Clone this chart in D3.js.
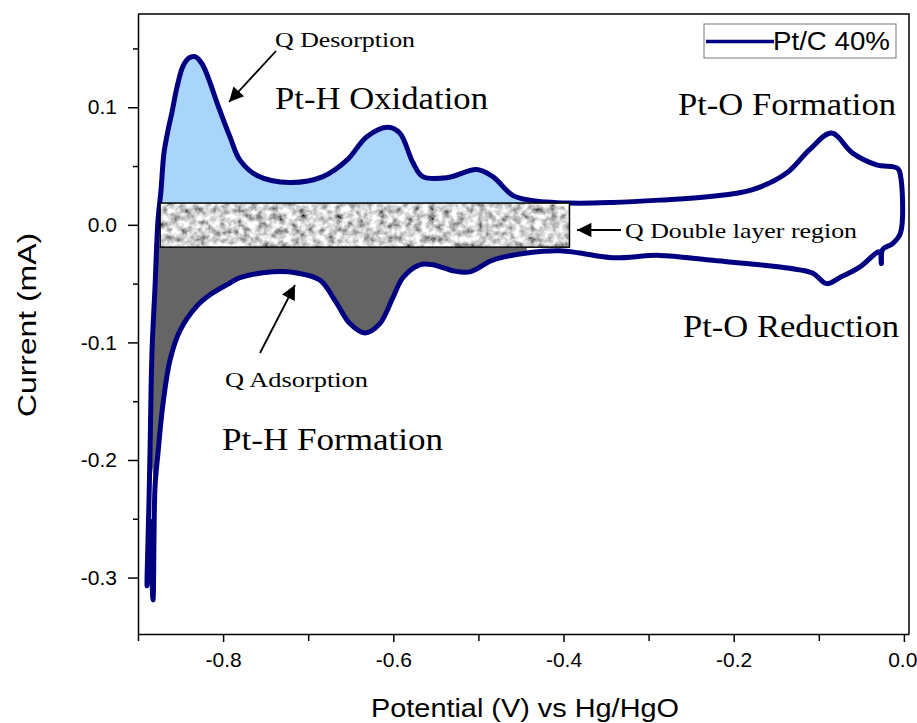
<!DOCTYPE html>
<html>
<head>
<meta charset="utf-8">
<script src="https://cdn.jsdelivr.net/npm/d3@7"></script>
<style>
  body { margin: 0; background: #fff; }
  svg { display: block; }
</style>
</head>
<body>
<div id="chart"></div>
<script>
// anodic sweep (negative -> positive)
var forwardV = [-0.8894, -0.8871, -0.8859, -0.8836, -0.8800, -0.8765, -0.8730, -0.8695, -0.8648, -0.8600,
  -0.8542, -0.8471, -0.8400, -0.8330, -0.8248, -0.8154, -0.8072, -0.7920, -0.7802, -0.7602,
  -0.7215, -0.6827, -0.6545, -0.6311, -0.6064, -0.5923, -0.5770, -0.5653, -0.5371, -0.5019,
  -0.4831, -0.4596, -0.4396, -0.3927, -0.3422, -0.2870, -0.2282, -0.1777, -0.1378, -0.1108,
  -0.0850, -0.0603, -0.0321, -0.0074, -0.0040]
var forwardI = [-0.307, -0.235, -0.194, -0.109, -0.053, 0.004, 0.029, 0.061, 0.080, 0.096,
  0.117, 0.135, 0.142, 0.143, 0.137, 0.121, 0.104, 0.075, 0.055, 0.042,
  0.036, 0.041, 0.055, 0.075, 0.083, 0.078, 0.053, 0.041, 0.040, 0.047,
  0.041, 0.025, 0.021, 0.0185, 0.019, 0.021, 0.024, 0.030, 0.044, 0.064,
  0.078, 0.061, 0.051, 0.048, 0.042]
// cathodic sweep (positive -> negative)
var reverseV = [-0.0040, -0.0133, -0.0250, -0.0265, -0.0286, -0.0520, -0.0756, -0.0909, -0.1073, -0.1343,
  -0.1695, -0.2282, -0.2870, -0.3422, -0.3809, -0.4044, -0.4432, -0.4831, -0.5101, -0.5301,
  -0.5536, -0.5688, -0.5888, -0.6005, -0.6158, -0.6334, -0.6510, -0.6663, -0.6863, -0.7133,
  -0.7415, -0.7802, -0.7920, -0.8154, -0.8307, -0.8507, -0.8624, -0.8706, -0.8765, -0.8800,
  -0.8824, -0.8859]
var reverseI = [-0.007, -0.016, -0.021, -0.033, -0.023, -0.036, -0.045, -0.050, -0.041, -0.037,
  -0.034, -0.030, -0.026, -0.028, -0.024, -0.022, -0.024, -0.030, -0.040, -0.039,
  -0.034, -0.034, -0.045, -0.062, -0.084, -0.092, -0.084, -0.067, -0.047, -0.041,
  -0.040, -0.045, -0.0495, -0.0595, -0.069, -0.090, -0.115, -0.152, -0.194, -0.223,
  -0.319, -0.252]

var xMajor = [-0.8, -0.6, -0.4, -0.2, 0.0]
var xMinor = [-0.9, -0.7, -0.5, -0.3, -0.1]
var yMajor = [-0.3, -0.2, -0.1, 0.0, 0.1]
var yMinor = [-0.25, -0.15, -0.05, 0.05, 0.15]
var seriesName = "Pt/C 40%"

// charge regions
var desorptionBase = 0.0185
var adsorptionBase = -0.019
var doubleLayerV = [-0.874, -0.393]
var doubleLayerI = [-0.019, 0.0185]

var width = 917
var height = 723
var margin = { top: 14, right: 8, bottom: 89, left: 138 }
var lineColor = "#000080"
var sans = "'Liberation Sans', Arial, sans-serif"
var serif = "'Liberation Serif', 'Times New Roman', serif"

var x = d3.scaleLinear().domain([-0.9, 0.006]).range([margin.left, width - margin.right])
var y = d3.scaleLinear().domain([-0.348, 0.1793]).range([height - margin.bottom, margin.top])

var svg = d3.select("#chart").append("svg")
  .attr("width", width)
  .attr("height", height)

var defs = svg.append("defs")
var noise = defs.append("filter").attr("id", "noise")
  .attr("x", 0).attr("y", 0).attr("width", "100%").attr("height", "100%")
noise.append("feTurbulence")
  .attr("type", "fractalNoise")
  .attr("baseFrequency", 0.14)
  .attr("numOctaves", 3)
  .attr("seed", 11)
noise.append("feColorMatrix")
  .attr("type", "matrix")
  .attr("values", "1.7 0 0 0 -0.2  1.7 0 0 0 -0.2  1.7 0 0 0 -0.2  0 0 0 0 1")
noise.append("feGaussianBlur").attr("stdDeviation", 0.6)

var forward = forwardV.map(function (v, i) { return [v, forwardI[i]] })
var reverse = reverseV.map(function (v, i) { return [v, reverseI[i]] })

var smooth = d3.curveCatmullRom.alpha(0.5)

// light blue: hydrogen desorption charge
var blueArea = d3.area()
  .curve(smooth)
  .x(function (d) { return x(d[0]) })
  .y0(y(desorptionBase))
  .y1(function (d) { return y(d[1]) })

svg.append("path")
  .datum(forward.filter(function (d) { return d[1] >= desorptionBase && d[0] <= -0.43 }))
  .attr("d", blueArea)
  .attr("fill", "#a8d5f9")

// dark grey: hydrogen adsorption charge
var greyPts = reverse.filter(function (d) { return d[0] <= -0.44 && d[0] >= -0.8801 })
var leftEdge = forward.filter(function (d) { return d[1] > -0.2 && d[1] < adsorptionBase })
greyPts = [[greyPts[0][0], adsorptionBase]].concat(greyPts, leftEdge,
  [[leftEdge[leftEdge.length - 1][0], adsorptionBase]])

svg.append("path")
  .attr("d", d3.line()
    .x(function (d) { return x(d[0]) })
    .y(function (d) { return y(d[1]) })(greyPts) + "Z")
  .attr("fill", "#656565")

// the CV loop
var loop = d3.line()
  .curve(d3.curveCatmullRomClosed.alpha(0.5))
  .x(function (d) { return x(d[0]) })
  .y(function (d) { return y(d[1]) })

svg.append("path")
  .datum(forward.concat(reverse))
  .attr("d", loop)
  .attr("fill", "none")
  .attr("stroke", lineColor)
  .attr("stroke-width", 5)
  .attr("stroke-linejoin", "round")

// double layer box
var dl = {
  x: x(doubleLayerV[0]), y: y(doubleLayerI[1]),
  w: x(doubleLayerV[1]) - x(doubleLayerV[0]), h: y(doubleLayerI[0]) - y(doubleLayerI[1])
}
svg.append("rect")
  .attr("x", dl.x).attr("y", dl.y).attr("width", dl.w).attr("height", dl.h)
  .attr("fill", "#999").attr("filter", "url(#noise)")
svg.append("rect")
  .attr("x", dl.x).attr("y", dl.y).attr("width", dl.w).attr("height", dl.h)
  .attr("fill", "none").attr("stroke", "#000").attr("stroke-width", 1.5)

// axes
var fmt = function (d) { return d.toFixed(1) }
var x0 = x.range()[0], x1 = x.range()[1]
var yb = y.range()[0], yt = y.range()[1]

var gx = svg.append("g").attr("transform", "translate(0," + yb + ")")
  .call(d3.axisBottom(x).tickValues(xMajor).tickSize(8).tickSizeOuter(0).tickPadding(10).tickFormat(fmt))
svg.append("g").attr("transform", "translate(0," + yb + ")")
  .call(d3.axisBottom(x).tickValues(xMinor).tickSize(7).tickFormat(""))
  .select(".domain").remove()

svg.append("g").attr("transform", "translate(" + x0 + ",0)")
  .call(d3.axisLeft(y).tickValues(yMajor).tickSize(10).tickSizeOuter(0).tickPadding(11).tickFormat(fmt))
svg.append("g").attr("transform", "translate(" + x0 + ",0)")
  .call(d3.axisLeft(y).tickValues(yMinor).tickSize(5).tickFormat(""))
  .select(".domain").remove()

svg.selectAll(".tick line, .domain").attr("stroke", "#000").attr("stroke-width", 1.5)
svg.selectAll(".tick text")
  .attr("font-family", sans)
  .attr("font-size", 21)
  .attr("fill", "#000")
// last label sits at the page edge
gx.selectAll(".tick text").filter(function (d) { return d === 0 })
  .attr("text-anchor", "end").attr("x", 13)

// top and right frame
svg.append("path")
  .attr("d", "M" + x0 + "," + yt + "H" + x1 + "V" + yb)
  .attr("fill", "none").attr("stroke", "#000").attr("stroke-width", 1.5)

// axis titles
svg.append("text")
  .attr("x", 525).attr("y", 717)
  .attr("text-anchor", "middle")
  .attr("font-family", sans)
  .attr("font-size", 25)
  .attr("textLength", 308)
  .attr("lengthAdjust", "spacingAndGlyphs")
  .text("Potential (V) vs Hg/HgO")

svg.append("text")
  .attr("transform", "translate(36,325) rotate(-90)")
  .attr("text-anchor", "middle")
  .attr("font-family", sans)
  .attr("font-size", 25)
  .attr("textLength", 184)
  .attr("lengthAdjust", "spacingAndGlyphs")
  .text("Current (mA)")

// legend
var lg = svg.append("g")
lg.append("rect")
  .attr("x", 704).attr("y", 24).attr("width", 192).attr("height", 34)
  .attr("fill", "#fff").attr("stroke", "#777").attr("stroke-width", 1)
lg.append("line")
  .attr("x1", 706).attr("x2", 774).attr("y1", 41.5).attr("y2", 41.5)
  .attr("stroke", lineColor).attr("stroke-width", 3.5)
lg.append("text")
  .attr("x", 773).attr("y", 50)
  .attr("font-family", sans)
  .attr("font-size", 25)
  .attr("textLength", 117)
  .attr("lengthAdjust", "spacingAndGlyphs")
  .text(seriesName)

// annotations
var notes = [
  { t: "Q Desorption", x: 275, y: 47, s: 21, w: 140 },
  { t: "Pt-H Oxidation", x: 275, y: 109, s: 31, w: 213 },
  { t: "Pt-O Formation", x: 678, y: 115, s: 31, w: 218 },
  { t: "Q Double layer region", x: 625, y: 238, s: 21, w: 232 },
  { t: "Pt-O Reduction", x: 683, y: 337, s: 31, w: 216 },
  { t: "Q Adsorption", x: 225, y: 387, s: 21, w: 143 },
  { t: "Pt-H Formation", x: 222, y: 450, s: 31, w: 221 }
]
svg.selectAll("text.note").data(notes).enter().append("text")
  .attr("class", "note")
  .attr("x", function (d) { return d.x })
  .attr("y", function (d) { return d.y })
  .attr("font-family", serif)
  .attr("font-size", function (d) { return d.s })
  .attr("textLength", function (d) { return d.w })
  .attr("lengthAdjust", "spacingAndGlyphs")
  .text(function (d) { return d.t })

defs.append("marker")
  .attr("id", "head")
  .attr("viewBox", "0 0 10 10")
  .attr("refX", 10).attr("refY", 5)
  .attr("markerWidth", 9).attr("markerHeight", 8)
  .attr("markerUnits", "strokeWidth")
  .attr("orient", "auto")
  .append("path").attr("d", "M0,0L10,5L0,10Z").attr("fill", "#000")

var arrows = [
  [276, 51, 229, 102],
  [260, 353, 295, 285],
  [621, 230, 577, 230]
]
svg.selectAll("line.arrow").data(arrows).enter().append("line")
  .attr("class", "arrow")
  .attr("x1", function (d) { return d[0] }).attr("y1", function (d) { return d[1] })
  .attr("x2", function (d) { return d[2] }).attr("y2", function (d) { return d[3] })
  .attr("stroke", "#000").attr("stroke-width", 1.8)
  .attr("marker-end", "url(#head)")
</script>
</body>
</html>
